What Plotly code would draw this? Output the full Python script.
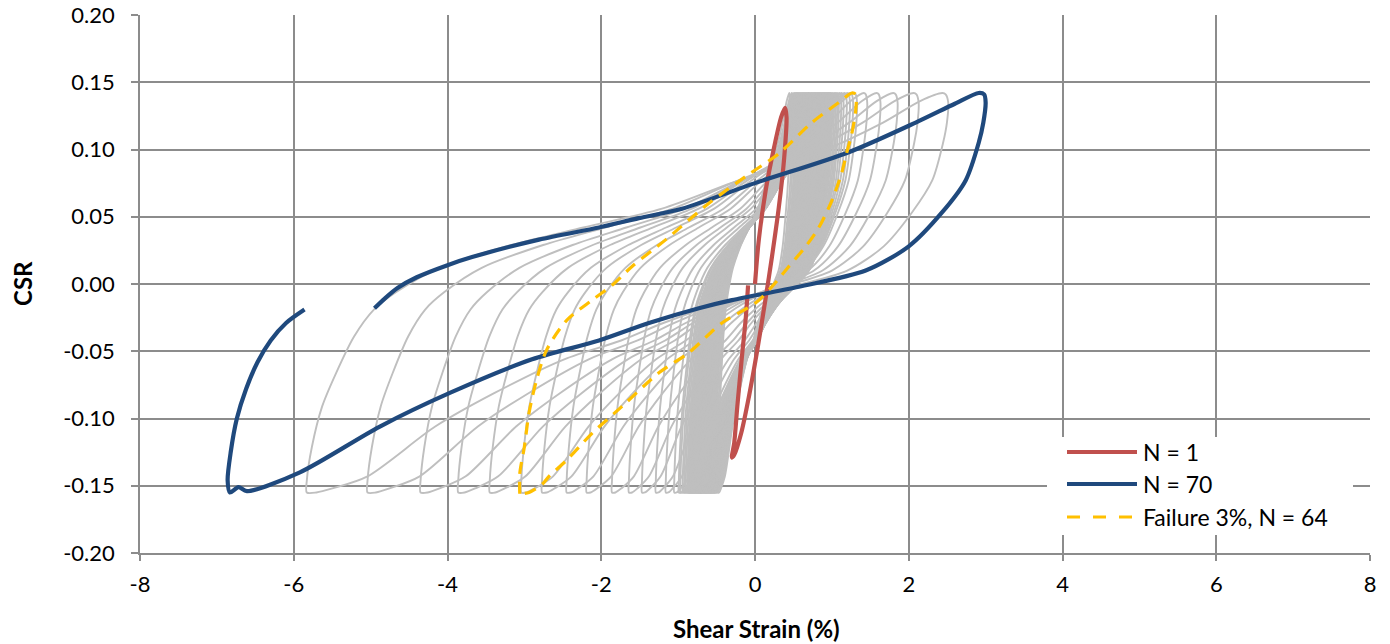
import plotly.graph_objects as go

# ---- N = 1 loop (shear strain %, CSR)
n1_strain = [0.00, 0.05, 0.14, 0.25, 0.34, 0.39, 0.41, 0.38, 0.31, 0.22, 0.14, 0.03,
             -0.08, -0.18, -0.27, -0.30, -0.27, -0.23, -0.17, -0.12, -0.09]
n1_csr = [0.000, 0.033, 0.070, 0.102, 0.124, 0.131, 0.124, 0.094, 0.057, 0.020, -0.010, -0.049,
          -0.084, -0.111, -0.127, -0.129, -0.118, -0.091, -0.054, -0.025, -0.001]

# ---- N = 70 loop
n70_strain = [-4.95, -4.82, -4.65, -4.40, -4.00, -3.68, -2.81, -2.03, -1.51, -0.95, 0.00, 1.22,
              2.09, 2.60, 2.91, 2.98, 3.00, 2.97, 2.91, 2.74, 2.43, 2.00, 1.44, 0.57, -0.30,
              -0.73, -1.38, -2.03, -2.90, -3.97, -4.88, -5.92, -6.61, -6.72, -6.83, -6.86,
              -6.82, -6.74, -6.62, -6.47, -6.30, -6.10, -5.86]
n70_csr = [-0.018, -0.011, -0.003, 0.005, 0.014, 0.020, 0.033, 0.042, 0.049, 0.056, 0.075, 0.098,
           0.120, 0.134, 0.142, 0.141, 0.135, 0.120, 0.105, 0.077, 0.053, 0.028, 0.010, -0.002,
           -0.012, -0.018, -0.029, -0.042, -0.056, -0.081, -0.106, -0.140, -0.154, -0.151,
           -0.155, -0.146, -0.125, -0.100, -0.078, -0.058, -0.042, -0.029, -0.019]

# ---- failure loop (3 % double amplitude, N = 64)
fail_strain = [-3.06, -3.06, -3.00, -2.94, -2.84, -2.71, -2.45, -2.12, -1.86, -1.60, -1.16,
               -0.60, -0.12, 0.31, 0.74, 1.09, 1.26, 1.31, 1.31, 1.26, 1.19, 1.13, 1.00, 0.83,
               0.66, 0.44, 0.22, 0.01, -0.43, -0.86, -1.25, -1.73, -2.12, -2.45, -2.68, -2.77,
               -2.94, -3.04]
fail_csr = [-0.156, -0.141, -0.121, -0.096, -0.071, -0.049, -0.027, -0.012, -0.001, 0.013, 0.033,
            0.060, 0.080, 0.097, 0.120, 0.135, 0.142, 0.141, 0.129, 0.112, 0.097, 0.083, 0.062, 0.042,
            0.028, 0.013, -0.002, -0.014, -0.029, -0.051, -0.066, -0.091, -0.111, -0.131, -0.143, -0.149,
            -0.155, -0.156]

# ---- remaining cycles (N = 2 ... 69): strain at the CSR trough and at the CSR peak
cycle_trough = [-0.48, -0.50, -0.52, -0.53, -0.54, -0.55, -0.56, -0.57, -0.58, -0.58,
                -0.59, -0.60, -0.61, -0.61, -0.62, -0.63, -0.63, -0.64, -0.65, -0.65,
                -0.66, -0.67, -0.67, -0.68, -0.69, -0.69, -0.70, -0.71, -0.71, -0.72,
                -0.73, -0.73, -0.74, -0.75, -0.75, -0.76, -0.77, -0.78, -0.79, -0.80,
                -0.81, -0.82, -0.83, -0.84, -0.85, -0.86, -0.87, -0.88, -0.90, -0.92,
                -0.94, -0.97, -0.99, -1.05, -1.16, -1.29, -1.47, -1.64, -1.86, -2.19,
                -2.45, -2.77, -3.04, -3.45, -3.86, -4.35, -5.04, -5.83]
cycle_peak = [0.45, 0.48, 0.50, 0.52, 0.53, 0.54, 0.55, 0.56, 0.57, 0.58,
              0.59, 0.60, 0.61, 0.62, 0.63, 0.64, 0.65, 0.66, 0.67, 0.68,
              0.69, 0.70, 0.70, 0.71, 0.72, 0.73, 0.74, 0.75, 0.76, 0.77,
              0.78, 0.79, 0.80, 0.81, 0.82, 0.83, 0.84, 0.85, 0.86, 0.87,
              0.88, 0.89, 0.90, 0.91, 0.92, 0.93, 0.94, 0.95, 0.96, 0.97,
              0.98, 0.99, 1.00, 1.02, 1.04, 1.06, 1.08, 1.11, 1.14, 1.18,
              1.22, 1.26, 1.31, 1.44, 1.61, 1.83, 2.10, 2.48]

# loop outline: position between trough strain (0) and peak strain (1), with CSR
loop_pos = [0.000, 0.000, 0.008, 0.024, 0.046, 0.074, 0.105, 0.140, 0.208, 0.320, 0.433,
            0.556, 0.664, 0.803, 0.902, 0.960, 0.995, 1.000, 1.004, 1.002, 0.996, 0.979,
            0.947, 0.903, 0.846, 0.757, 0.669, 0.625, 0.558, 0.492, 0.403, 0.294, 0.201,
            0.095, 0.040, 0.015, 0.000]
loop_csr = [-0.155, -0.146, -0.121, -0.091, -0.066, -0.039, -0.019, -0.006, 0.012, 0.029, 0.042,
            0.056, 0.075, 0.098, 0.120, 0.136, 0.142, 0.141, 0.135, 0.120, 0.105, 0.077,
            0.053, 0.028, 0.010, -0.002, -0.012, -0.018, -0.029, -0.042, -0.056, -0.081, -0.106,
            -0.143, -0.152, -0.155, -0.155]

x_ticks = [-8, -6, -4, -2, 0, 2, 4, 6, 8]
x_tick_text = ["-8", "-6", "-4", "-2", "0", "2", "4", "6", "8"]
y_ticks = [-0.20, -0.15, -0.10, -0.05, 0.00, 0.05, 0.10, 0.15, 0.20]
y_tick_text = ["-0.20", "-0.15", "-0.10", "-0.05", "0.00", "0.05", "0.10", "0.15", "0.20"]

FONT = "Lato, 'Open Sans', sans-serif"
GRID = "#8C8C8C"

gx, gy = [], []
for lo, hi in zip(cycle_trough, cycle_peak):
    for p, c in zip(loop_pos, loop_csr):
        gx.append(lo + p * (hi - lo))
        gy.append(c)
    gx.append(None)
    gy.append(None)

fig = go.Figure()
fig.add_trace(go.Scatter(x=gx, y=gy, mode="lines", showlegend=False, hoverinfo="skip",
                         line=dict(color="#BFBFBF", width=1.9, shape="spline", smoothing=0.8)))
fig.add_trace(go.Scatter(x=n1_strain, y=n1_csr, mode="lines", name="N = 1", showlegend=False,
                         line=dict(color="#C0504D", width=4.2, shape="spline", smoothing=0.8)))
fig.add_trace(go.Scatter(x=n70_strain, y=n70_csr, mode="lines", name="N = 70", showlegend=False,
                         line=dict(color="#1F497D", width=4.2, shape="spline", smoothing=0.8)))
fig.add_trace(go.Scatter(x=fail_strain, y=fail_csr, mode="lines", name="Failure 3%, N = 64",
                         showlegend=False,
                         line=dict(color="#FFC000", width=3.2, dash="12px,8px",
                                   shape="spline", smoothing=0.8)))

# plot area in pixels: x 140..1370, y 15..553
PL, PR, PT, PB = 140, 1370, 15, 553
W, H = PR - PL, PB - PT


def px(xp):
    return (xp - PL) / W


def py(yp):
    return (PB - yp) / H


shapes = [dict(type="rect", xref="paper", yref="paper", x0=px(1047), x1=px(1353),
               y0=py(535), y1=py(437), fillcolor="white", line=dict(width=0), layer="above")]
annotations = []
legend_items = [("N = 1", "#C0504D", 4.2, "solid", 452),
                ("N = 70", "#1F497D", 4.2, "solid", 484),
                ("Failure 3%, N = 64", "#FFC000", 3.2, "13px,13px", 517)]
for label, col, wd, dash, yp in legend_items:
    shapes.append(dict(type="line", xref="paper", yref="paper", x0=px(1067), x1=px(1137),
                       y0=py(yp), y1=py(yp), line=dict(color=col, width=wd, dash=dash),
                       layer="above"))
    annotations.append(dict(xref="paper", yref="paper", x=px(1141), y=py(yp), text=label,
                            showarrow=False, xanchor="left", yanchor="middle",
                            font=dict(family=FONT, size=23, color="#000000")))

annotations.append(dict(xref="paper", yref="paper", x=px(756), y=py(628), text="<b>Shear Strain (%)</b>",
                        showarrow=False, xanchor="center", yanchor="middle",
                        font=dict(family=FONT, size=24, color="#000000")))
annotations.append(dict(xref="paper", yref="paper", x=px(22), y=py(284), text="<b>CSR</b>",
                        showarrow=False, xanchor="center", yanchor="middle", textangle=-90,
                        font=dict(family=FONT, size=24, color="#000000")))

fig.update_layout(
    width=1390, height=644,
    margin=dict(l=PL, r=1390 - PR, t=PT, b=644 - PB, autoexpand=False),
    paper_bgcolor="white", plot_bgcolor="white",
    font=dict(family=FONT, size=22, color="#000000"),
    shapes=shapes, annotations=annotations,
    showlegend=False,
)
fig.update_xaxes(range=[-8, 8], tickmode="array", tickvals=x_ticks, ticktext=x_tick_text,
                 automargin=False, showgrid=True, gridcolor=GRID, gridwidth=1.5,
                 zeroline=False, showline=True, linecolor=GRID, linewidth=1.5,
                 ticks="outside", ticklen=6, tickcolor=GRID, tickwidth=1.5,
                 ticklabelstandoff=5, tickfont=dict(family=FONT, size=22))
fig.update_yaxes(range=[-0.2, 0.2], tickmode="array", tickvals=y_ticks, ticktext=y_tick_text,
                 automargin=False, showgrid=True, gridcolor=GRID, gridwidth=1.5,
                 zeroline=False, showline=True, linecolor=GRID, linewidth=1.5,
                 ticks="outside", ticklen=7, tickcolor=GRID, tickwidth=1.5,
                 ticklabelstandoff=12, tickfont=dict(family=FONT, size=22))

fig.write_html("out.html")
